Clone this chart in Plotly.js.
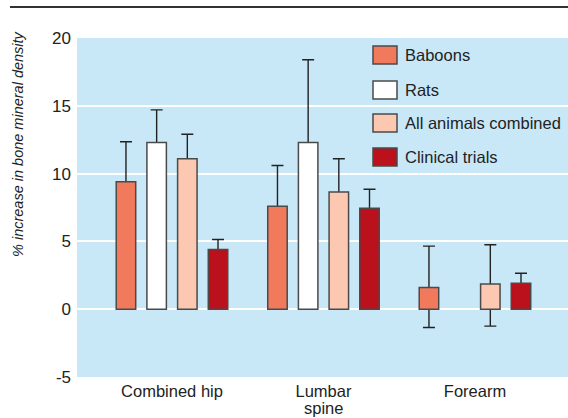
<!DOCTYPE html>
<html>
<head>
<meta charset="utf-8">
<script src="https://cdn.plot.ly/plotly-3.0.1.min.js"></script>
<style>html,body{margin:0;padding:0;background:#fff}#chart{width:568px;height:418px}</style>
</head>
<body>
<div id="chart"></div>
<script>
// ---- data ----
const categories = ['Combined hip', 'Lumbar spine', 'Forearm'];
const tickLines1 = ['Combined hip', 'Lumbar', 'Forearm'];
const tickLine2 = 'spine';
const seriesNames = ['Baboons', 'Rats', 'All animals combined', 'Clinical trials'];
const baboons = [9.4, 7.6, 1.6];
const rats = [12.3, 12.3, null];
const allAnimals = [11.1, 8.65, 1.85];
const clinical = [4.4, 7.45, 1.92];
const baboonsErrPlus = [2.95, 3.0, 3.05];
const baboonsErrMinus = [2.95, 3.0, 2.95];
const ratsErrPlus = [2.4, 6.1, null];
const ratsErrMinus = [2.4, 6.1, null];
const allAnimalsErrPlus = [1.8, 2.45, 2.9];
const allAnimalsErrMinus = [1.8, 2.45, 3.1];
const clinicalErrPlus = [0.74, 1.4, 0.73];
const clinicalErrMinus = [0.74, 1.4, 0.73];
const yTicks = [-5, 0, 5, 10, 15, 20];
const yTitle = '% increase in bone mineral density';

// ---- style ----
const colors = ['#F27A5C', '#FFFFFF', '#FCC8B1', '#BA111C'];
const values = [baboons, rats, allAnimals, clinical];
const errPlus = [baboonsErrPlus, ratsErrPlus, allAnimalsErrPlus, clinicalErrPlus];
const errMinus = [baboonsErrMinus, ratsErrMinus, allAnimalsErrMinus, clinicalErrMinus];
const FONT = '"Liberation Sans", Arial, Helvetica, sans-serif';

const traces = [];
// error-bar layers first (drawn behind the bars)
for (let i = 0; i < 4; i++) {
  traces.push({
    type: 'bar', x: categories, y: values[i], offsetgroup: 'g' + i,
    marker: {color: 'rgba(0,0,0,0)', line: {width: 0}},
    error_y: {type: 'data', symmetric: false, array: errPlus[i], arrayminus: errMinus[i],
              color: '#222', thickness: 1.4, width: 6},
    showlegend: false, hoverinfo: 'skip'
  });
}
// bars on top
for (let i = 0; i < 4; i++) {
  traces.push({
    type: 'bar', name: seriesNames[i], x: categories, y: values[i], offsetgroup: 'g' + i,
    marker: {color: colors[i], line: {color: '#4a4a4a', width: 1.5}},
    showlegend: false
  });
}

// plot geometry (pixels)
const L = 77, R = 0, T = 38, B = 41, W = 568, H = 418;
const pw = W - L - R, ph = H - T - B;
const px = x => (x - L) / pw;
const py = y => (H - B - y) / ph;

const shapes = [
  {type: 'line', xref: 'paper', yref: 'paper', x0: px(10), x1: px(568), y0: py(7), y1: py(7),
   line: {color: '#333', width: 2}}
];
const annotations = [
  {xref: 'paper', yref: 'paper', x: px(18), y: py(144), text: yTitle, textangle: -90,
   showarrow: false, xanchor: 'center', yanchor: 'middle',
   font: {family: FONT, size: 14.5, color: '#222', style: 'italic'}},
  {xref: 'x', yref: 'paper', x: categories[1], y: py(408), text: tickLine2,
   showarrow: false, xanchor: 'center', yanchor: 'middle',
   font: {family: FONT, size: 16.5, color: '#222'}}
];
const legY = [55, 90, 123, 157];
for (let i = 0; i < 4; i++) {
  shapes.push({type: 'rect', xref: 'paper', yref: 'paper', x0: px(373), x1: px(397),
    y0: py(legY[i] + 9), y1: py(legY[i] - 9), fillcolor: colors[i],
    line: {color: '#4a4a4a', width: 1.5}});
  annotations.push({xref: 'paper', yref: 'paper', x: px(403), y: py(legY[i]), text: seriesNames[i],
    showarrow: false, xanchor: 'left', yanchor: 'middle',
    font: {family: FONT, size: 16.5, color: '#222'}});
}

const layout = {
  width: W, height: H,
  margin: {l: L, r: R, t: T, b: B, pad: 0},
  paper_bgcolor: '#fff', plot_bgcolor: '#C8E8F8',
  barmode: 'group', bargap: 0.19, bargroupgap: 0.365,
  font: {family: FONT, color: '#222'},
  showlegend: false,
  xaxis: {type: 'category', range: [-0.627, 2.614], showgrid: false, zeroline: false,
          showline: false, ticks: '', tickvals: categories, ticktext: tickLines1,
          tickfont: {family: FONT, size: 16.5, color: '#222'},
          ticklabelstandoff: 2, fixedrange: true},
  yaxis: {range: [-5, 20], tickvals: yTicks, ticktext: yTicks.map(String),
          showgrid: true, gridcolor: '#fff', gridwidth: 2, zeroline: false, showline: false,
          ticks: '', tickfont: {family: FONT, size: 17, color: '#222'},
          ticklabelstandoff: 5, fixedrange: true},
  shapes: shapes, annotations: annotations
};

Plotly.newPlot('chart', traces, layout, {displayModeBar: false, staticPlot: true});
</script>
</body>
</html>
